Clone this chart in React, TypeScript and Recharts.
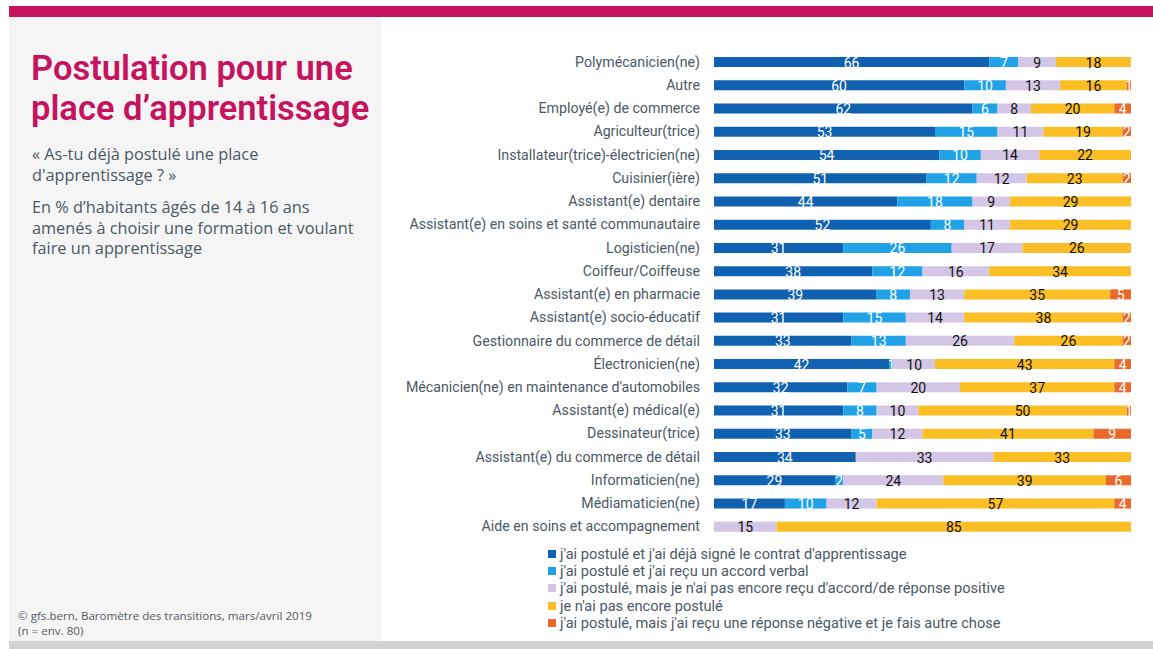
import { Bar, BarChart, LabelList, XAxis, YAxis } from "recharts";

const categories = [
  "Polymécanicien(ne)",
  "Autre",
  "Employé(e) de commerce",
  "Agriculteur(trice)",
  "Installateur(trice)-électricien(ne)",
  "Cuisinier(ière)",
  "Assistant(e) dentaire",
  "Assistant(e) en soins et santé communautaire",
  "Logisticien(ne)",
  "Coiffeur/Coiffeuse",
  "Assistant(e) en pharmacie",
  "Assistant(e) socio-éducatif",
  "Gestionnaire du commerce de détail",
  "Électronicien(ne)",
  "Mécanicien(ne) en maintenance d'automobiles",
  "Assistant(e) médical(e)",
  "Dessinateur(trice)",
  "Assistant(e) du commerce de détail",
  "Informaticien(ne)",
  "Médiamaticien(ne)",
  "Aide en soins et accompagnement",
];

const signed = [66, 60, 62, 53, 54, 51, 44, 52, 31, 38, 39, 31, 33, 42, 32, 31, 33, 34, 29, 17, 0];
const verbal = [7, 10, 6, 15, 10, 12, 18, 8, 26, 12, 8, 15, 13, 1, 7, 8, 5, 0, 2, 10, 0];
const pending = [9, 13, 8, 11, 14, 12, 9, 11, 17, 16, 13, 14, 26, 10, 20, 10, 12, 33, 24, 12, 15];
const notYet = [18, 16, 20, 19, 22, 23, 29, 29, 26, 34, 35, 38, 26, 43, 37, 50, 41, 33, 39, 57, 85];
const refused = [0, 1, 4, 2, 0, 2, 0, 0, 0, 0, 5, 2, 2, 4, 4, 1, 9, 0, 6, 4, 0];

const series = [
  { key: "signed", name: "j'ai postulé et j'ai déjà signé le contrat d'apprentissage", color: "#1061b0", text: "#ffffff", values: signed },
  { key: "verbal", name: "j'ai postulé et j'ai reçu un accord verbal", color: "#21a2e6", text: "#ffffff", values: verbal },
  { key: "pending", name: "j'ai postulé, mais je n'ai pas encore reçu d'accord/de réponse positive", color: "#d3c6e6", text: "#111111", values: pending },
  { key: "notYet", name: "je n'ai pas encore postulé", color: "#fbbe25", text: "#111111", values: notYet },
  { key: "refused", name: "j'ai postulé, mais j'ai reçu une réponse négative et je fais autre chose", color: "#e8692a", text: "#ffffff", values: refused },
];

const data = categories.map((c, i) => {
  const row: Record<string, string | number> = { label: c };
  series.forEach((s) => (row[s.key] = s.values[i]));
  return row;
});

const FONT = "Roboto, 'Noto Sans', sans-serif";
const BODY = "'Open Sans', Roboto, sans-serif";
const TEXT = "#4c5865";

// label clipped to its own segment, like the original
function segLabel(color: string) {
  return (props: any) => {
    const { x, y, width, height, value } = props;
    if (!value || width <= 0) return null;
    const pad = 6;
    return (
      <svg x={x} y={y - pad} width={width} height={height + pad * 2} overflow="hidden">
        <text
          x={width / 2}
          y={(height + pad * 2) / 2 + 0.5}
          textAnchor="middle"
          dominantBaseline="central"
          fill={color}
          fontSize={14}
          fontFamily={FONT}
        >
          {value}
        </text>
      </svg>
    );
  };
}

export default function App() {
  return (
    <div
      style={{
        position: "absolute",
        left: 0,
        top: 0,
        width: 1153,
        height: 649,
        background: "#ffffff",
        fontFamily: FONT,
        overflow: "hidden",
      }}
    >
      <div style={{ position: "absolute", left: 9, top: 6, width: 1144, height: 11, background: "#c6135e" }} />
      <div style={{ position: "absolute", left: 9, top: 17, width: 372, height: 624, background: "#f5f5f5" }} />
      <div style={{ position: "absolute", left: 9, top: 641, width: 1144, height: 8, background: "#d3d3d3" }} />

      <div
        style={{
          position: "absolute",
          left: 31,
          top: 48,
          width: 350,
          color: "#c6135e",
          fontSize: 34.5,
          fontWeight: 600,
          lineHeight: "40px",
          whiteSpace: "nowrap",
        }}
      >
        Postulation pour une
        <br />
        place d’apprentissage
      </div>
      <div style={{ position: "absolute", left: 32, top: 144, color: TEXT, fontFamily: BODY, fontSize: 16.3, lineHeight: "20.7px", whiteSpace: "nowrap" }}>
        « As-tu déjà postulé une place
        <br />
        d'apprentissage ? »
      </div>
      <div style={{ position: "absolute", left: 32, top: 197, color: TEXT, fontFamily: BODY, fontSize: 16.3, lineHeight: "20.7px", whiteSpace: "nowrap" }}>
        En % d’habitants âgés de 14 à 16 ans
        <br />
        amenés à choisir une formation et voulant
        <br />
        faire un apprentissage
      </div>
      <div style={{ position: "absolute", left: 18, top: 608, color: "#555b62", fontFamily: BODY, fontSize: 11.6, lineHeight: "15px", whiteSpace: "nowrap" }}>
        © gfs.bern, Baromètre des transitions, mars/avril 2019
        <br />
        (n = env. 80)
      </div>

      <div style={{ position: "absolute", left: 390, top: 0 }}>
        <BarChart
          width={760}
          height={560}
          data={data}
          layout="vertical"
          barSize={10}
          margin={{ top: 50, right: 19, bottom: 22, left: 0 }}
        >
          <XAxis type="number" domain={[0, 100]} hide />
          <YAxis
            type="category"
            dataKey="label"
            width={324}
            interval={0}
            axisLine={false}
            tickLine={false}
            tickMargin={8}
            tick={{ fontSize: 14.2, fill: TEXT, fontFamily: FONT }}
          />
          {series.map((s) => (
            <Bar key={s.key} dataKey={s.key} name={s.name} stackId="a" fill={s.color} isAnimationActive={false}>
              <LabelList dataKey={s.key} content={segLabel(s.text)} />
            </Bar>
          ))}
        </BarChart>
      </div>

      <div style={{ position: "absolute", left: 548, top: 545 }}>
        {series.map((s) => (
          <div key={s.key} style={{ display: "flex", alignItems: "center", height: 17.3 }}>
            <span style={{ width: 8, height: 8, background: s.color, marginRight: 4 }} />
            <span style={{ color: TEXT, fontSize: 14.6, whiteSpace: "nowrap" }}>{s.name}</span>
          </div>
        ))}
      </div>
    </div>
  );
}
